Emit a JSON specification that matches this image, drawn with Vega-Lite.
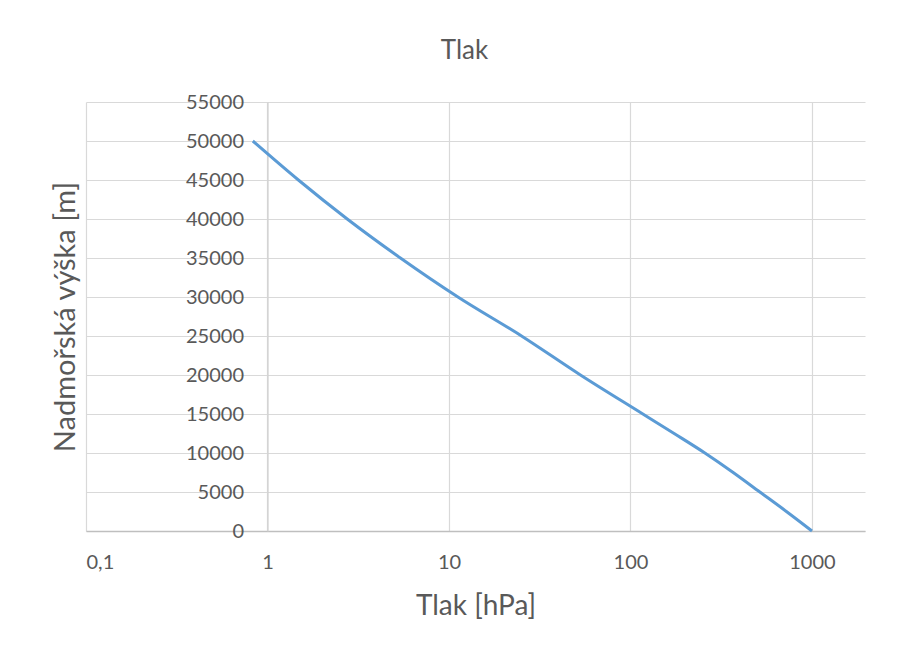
{
  "$schema": "https://vega.github.io/schema/vega-lite/v6.json",
  "width": 779,
  "height": 429,
  "autosize": "none",
  "padding": {"left": 86, "top": 102, "right": 40, "bottom": 116},
  "background": "white",
  "title": {
    "text": "Tlak",
    "font": "Lato",
    "fontSize": 26,
    "fontWeight": "normal",
    "color": "#595959",
    "anchor": "middle",
    "baseline": "alphabetic",
    "offset": 7,
    "dx": -11
  },
  "data": {
    "values": [
      {"vyska": 0, "tlak": 1000},
      {"vyska": 2500, "tlak": 723},
      {"vyska": 5000, "tlak": 516},
      {"vyska": 7500, "tlak": 368},
      {"vyska": 10000, "tlak": 257},
      {"vyska": 12500, "tlak": 174},
      {"vyska": 15000, "tlak": 117},
      {"vyska": 20000, "tlak": 53},
      {"vyska": 25000, "tlak": 25.1},
      {"vyska": 30000, "tlak": 11.2},
      {"vyska": 35000, "tlak": 5.4},
      {"vyska": 40000, "tlak": 2.75},
      {"vyska": 45000, "tlak": 1.48},
      {"vyska": 50000, "tlak": 0.83}
    ]
  },
  "mark": {"type": "line", "color": "#5b9bd5", "strokeWidth": 3, "interpolate": "monotone"},
  "encoding": {
    "x": {
      "field": "tlak",
      "type": "quantitative",
      "scale": {"type": "log", "domain": [0.1, 1960], "nice": false},
      "axis": {
        "title": "Tlak [hPa]",
        "values": [0.1, 1, 10, 100, 1000],
        "labelExpr": "replace(format(datum.value, '~g'), '.', ',')",
        "tickSize": 0,
        "labelPadding": 21,
        "titlePadding": 20,
        "domainColor": "#bfbfbf",
        "domainWidth": 1.5,
        "gridColor": "#d9d9d9",
        "gridWidth": 1.2
      }
    },
    "y": {
      "field": "vyska",
      "type": "quantitative",
      "scale": {"domain": [0, 55000], "nice": false},
      "axis": {
        "title": "Nadmořská výška [m]",
        "values": [0, 5000, 10000, 15000, 20000, 25000, 30000, 35000, 40000, 45000, 50000, 55000],
        "format": "d",
        "offset": -181.5,
        "tickSize": 0,
        "labelPadding": 24,
        "domainColor": "#d0d0d0",
        "domainWidth": 1.2,
        "gridColor": "#d9d9d9",
        "gridWidth": 1.2,
        "titleX": -202,
        "titleY": 214.5,
        "titleFontSize": 29,
        "titleBaseline": "middle",
        "titleAngle": -90
      }
    }
  },
  "config": {
    "view": {"stroke": null},
    "axis": {
      "labelFont": "Lato",
      "labelFontSize": 20,
      "labelColor": "#595959",
      "titleFont": "Lato",
      "titleFontSize": 28,
      "titleFontWeight": "normal",
      "titleColor": "#595959",
      "labelOverlap": false
    }
  }
}
